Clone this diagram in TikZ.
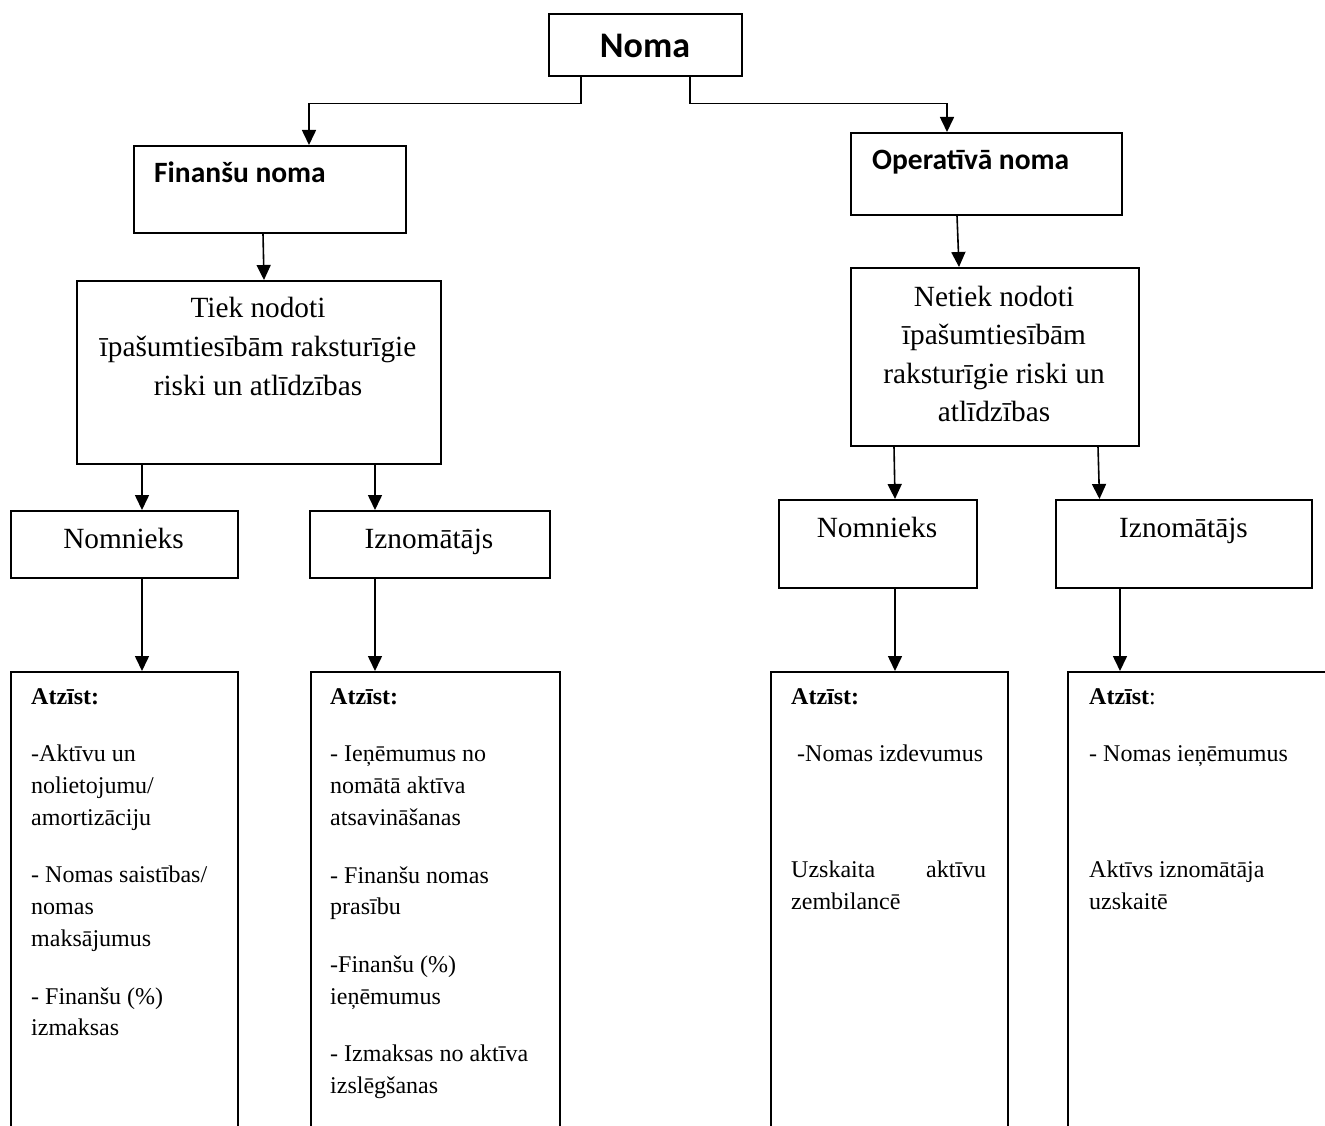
\documentclass[tikz,border=0pt]{standalone}
\usepackage{fontspec}
\setmainfont{Liberation Serif}
\newfontfamily\calibrifont{Carlito}
\usetikzlibrary{arrows.meta}
\begin{document}
\begin{tikzpicture}[x=1pt,y=-1pt,
  box/.style={draw, line width=1.6pt, inner sep=0pt, anchor=north west},
  arr/.style={line width=1.6pt, -{Triangle[length=15pt,width=14pt]}},
  link/.style={line width=1.6pt},
  head/.style={font=\calibrifont\bfseries\fontsize{29.5}{36}\selectfont, inner sep=0pt, anchor=base west},
  big/.style={font=\fontsize{29.3}{39}\selectfont, inner sep=0pt, align=center, anchor=north},
  role/.style={font=\fontsize{29.3}{39}\selectfont, inner sep=0pt, anchor=base},
  list/.style={font=\fontsize{24}{31.7}\selectfont, inner sep=0pt, align=left, anchor=north west}
]
\useasboundingbox (0,0) rectangle (1325,1126);
\fill[white] (0,0) rectangle (1325,1126);
\clip (0,0) rectangle (1325,1126);

% top level
\node[box, minimum width=193pt, minimum height=62pt] (noma) at (548,13) {};
\node[font=\calibrifont\bfseries\fontsize{36}{43}\selectfont, inner sep=0pt, anchor=base] (nomaT) at (645,58) {Noma};

% lease types
\node[box, minimum width=272pt, minimum height=87pt] (fin) at (133,145) {};
\node[head] (finT) at (154,183) {Finanšu noma};
\node[box, minimum width=271pt, minimum height=82pt] (op) at (850,132) {};
\node[head] (opT) at (872,170) {Operatīvā noma};

% risks and rewards
\node[box, minimum width=364pt, minimum height=183pt] (tiek) at (76,280) {};
\node[big] (tiekT) at (258,289.7) {\strut Tiek nodoti\\īpašumtiesībām raksturīgie\\riski un atlīdzības};
\node[box, minimum width=288pt, minimum height=178pt] (netiek) at (850,267) {};
\node[big, font=\fontsize{29.3}{38.5}\selectfont] (netiekT) at (994,279) {\strut Netiek nodoti\\īpašumtiesībām\\raksturīgie riski un\\atlīdzības};

% parties
\node[box, minimum width=227pt, minimum height=67pt] (nomL) at (10,510) {};
\node[role] (nomLT) at (123.5,548) {Nomnieks};
\node[box, minimum width=240pt, minimum height=67pt] (iznL) at (309,510) {};
\node[role] (iznLT) at (429,548) {Iznomātājs};
\node[box, minimum width=198pt, minimum height=88pt] (nomR) at (778,499) {};
\node[role] (nomRT) at (877,537) {Nomnieks};
\node[box, minimum width=256pt, minimum height=88pt] (iznR) at (1055,499) {};
\node[role] (iznRT) at (1183.5,537) {Iznomātājs};

% recognition boxes (run past the lower edge)
\node[box, minimum width=227pt, minimum height=500pt] (bL1) at (10,671) {};
\node[box, minimum width=249pt, minimum height=500pt] (bL2) at (310,671) {};
\node[box, minimum width=237pt, minimum height=500pt] (bR1) at (770,671) {};
\node[box, minimum width=320pt, minimum height=500pt] (bR2) at (1067,671) {};

\node[list] (bL1T) at (31,681.8) {\strut\textbf{Atzīst:}\\[26pt]
  -Aktīvu un\\nolietojumu/\\amortizāciju\\[26pt]
  - Nomas saistības/\\nomas\\maksājumus\\[26pt]
  - Finanšu (\%)\\izmaksas};
\node[list] (bL2T) at (330,681.8) {\strut\textbf{Atzīst:}\\[26pt]
  - Ieņēmumus no\\nomātā aktīva\\atsavināšanas\\[26pt]
  - Finanšu nomas\\prasību\\[26pt]
  -Finanšu (\%)\\ieņēmumus\\[26pt]
  - Izmaksas no aktīva\\izslēgšanas};
\node[list] (bR1T) at (791,681.8) {\strut\textbf{Atzīst:}\\[26pt]
  \hspace*{6pt}-Nomas izdevumus\\[84.3pt]
  \hbox to 195pt{Uzskaita\hfill aktīvu}\\zembilancē};
\node[list] (bR2T) at (1089,681.8) {\strut\textbf{Atzīst}:\\[26pt]
  - Nomas ieņēmumus\\[84.3pt]
  Aktīvs iznomātāja\\uzskaitē};

% connectors
\draw[arr] ([xshift=33pt]noma.south west) -- ++(0,27) -| ([xshift=176pt]fin.north west);
\draw[arr] ([xshift=142pt]noma.south west) -- ++(0,27) -| ([xshift=97pt]op.north west);
\draw[arr] ([xshift=130pt]fin.south west) -- ([xshift=188pt]tiek.north west);
\draw[arr] ([xshift=107pt]op.south west) -- ([xshift=109pt]netiek.north west);
\draw[arr] ([xshift=66pt]tiek.south west) -- ([xshift=132pt]nomL.north west);
\draw[arr] ([xshift=299pt]tiek.south west) -- ([xshift=66pt]iznL.north west);
\draw[arr] ([xshift=44pt]netiek.south west) -- ([xshift=117pt]nomR.north west);
\draw[arr] ([xshift=248pt]netiek.south west) -- ([xshift=44.5pt]iznR.north west);
\draw[arr] ([xshift=132pt]nomL.south west) -- ([xshift=132pt]bL1.north west);
\draw[arr] ([xshift=66pt]iznL.south west) -- ([xshift=65pt]bL2.north west);
\draw[arr] ([xshift=117pt]nomR.south west) -- ([xshift=125pt]bR1.north west);
\draw[arr] ([xshift=65pt]iznR.south west) -- ([xshift=53pt]bR2.north west);
\end{tikzpicture}
\end{document}
